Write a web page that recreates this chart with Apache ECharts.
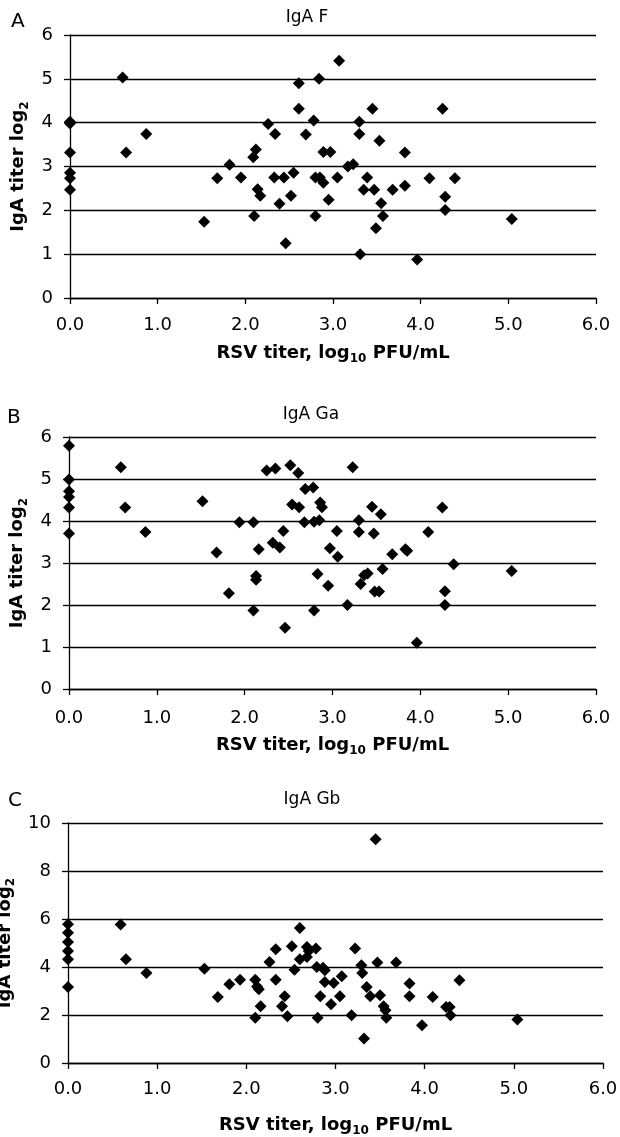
<!DOCTYPE html>
<html>
<head>
<meta charset="utf-8">
<script src="https://cdn.jsdelivr.net/npm/echarts@6/dist/echarts.min.js"></script>
<style>
html,body{margin:0;padding:0;background:#fff;}
#chart{width:620px;height:1137px;}
</style>
</head>
<body>
<div id="chart"></div>
<script>
// ---- Data ----
const panelLetters = ['A', 'B', 'C'];
const panelTitles = ['IgA F', 'IgA Ga', 'IgA Gb'];
const xTicks = [0, 1, 2, 3, 4, 5, 6];
const yMaxes = [6, 6, 10];
const yIntervals = [1, 1, 2];

// Panel A: IgA F
const aX = [0,0,0,0,0,0, 0.60,0.64,0.87,1.53,1.68,1.82,1.95,
  2.61,2.84,3.07,2.61,3.45, 2.26,2.78,3.30,2.34,2.69,3.30,3.53,
  2.12,2.09,2.89,2.97,3.17,3.23,
  2.33,2.44,2.55,2.80,2.85,2.89,3.05,3.39,3.68,
  2.14,2.17,2.39,2.52,2.95,3.35,3.47,3.55,3.57,3.49,
  2.10,2.80,2.46,3.31,
  3.82,3.82,3.96,4.10,4.25,4.28,4.28,4.39,5.04];
const aY = [4.02,3.98,3.32,2.86,2.73,2.47, 5.03,3.32,3.74,1.74,2.73,3.04,2.75,
  4.90,5.00,5.41,4.32,4.32, 3.97,4.05,4.02,3.74,3.73,3.74,3.59,
  3.39,3.21,3.33,3.33,3.00,3.05,
  2.75,2.75,2.86,2.75,2.75,2.63,2.75,2.75,2.47,
  2.48,2.33,2.15,2.33,2.24,2.47,2.47,2.16,1.87,1.59,
  1.87,1.87,1.25,1.00,
  3.32,2.56,0.88,2.73,4.32,2.31,2.01,2.73,1.80];

// Panel B: IgA Ga
const bX = [0,0,0,0,0,0, 0.59,0.64,0.87,1.52,1.68,1.82,1.94,
  2.25,2.35,2.52,2.61,3.23, 2.69,2.78,
  2.54,2.62,2.86,2.88, 3.45,3.55,4.25,
  2.10,2.68,2.79,2.85,3.30,
  2.44,3.05,3.30,3.47,4.09,
  2.16,2.32,2.40,2.97,3.06,3.68,3.83,3.85,
  2.13,2.13,2.83,2.95,3.36,3.40,3.32,3.57,3.48,3.53,4.38,4.28,5.04,
  2.10,2.79,3.17,4.28,
  2.46,3.96];
const bY = [5.79,4.99,4.71,4.57,4.32,3.70, 5.28,4.32,3.74,4.47,3.25,2.28,3.97,
  5.20,5.25,5.33,5.14,5.28, 4.76,4.80,
  4.39,4.33,4.44,4.33, 4.34,4.16,4.32,
  3.97,3.97,3.98,4.02,4.02,
  3.76,3.76,3.74,3.70,3.74,
  3.33,3.48,3.37,3.35,3.15,3.21,3.33,3.29,
  2.69,2.60,2.74,2.46,2.71,2.75,2.50,2.86,2.32,2.32,2.97,2.33,2.81,
  1.87,1.87,2.00,2.00,
  1.46,1.10];

// Panel C: IgA Gb
const cX = [0,0,0,0,0,0, 0.59,0.65,0.88,1.53,1.68,1.81,1.93,
  2.10,2.12,2.14,2.16,2.10,
  2.26,2.33,2.33,2.40,2.43,2.46,
  2.51,2.54,2.60,2.60,2.68,2.68,2.70,2.78,
  2.79,2.86,2.88,2.88,2.98,2.83,3.05,2.95,2.80,
  3.07,3.22,3.29,3.30,3.35,3.47,3.68,3.18,
  3.39,3.50,3.54,3.56,3.57,3.32,3.45,
  3.83,3.83,3.97,4.09,4.24,4.28,4.29,4.39,5.04];
const cY = [5.78,5.43,5.04,4.67,4.32,3.17, 5.77,4.32,3.75,3.93,2.75,3.28,3.47,
  3.47,3.19,3.07,2.36,1.89,
  4.21,4.74,3.47,2.36,2.78,1.95,
  4.86,3.89,5.63,4.32,4.42,4.83,4.67,4.77,
  4.00,3.97,3.86,3.38,3.33,2.78,2.78,2.45,1.89,
  3.61,4.77,4.07,3.75,3.17,4.19,4.19,1.99,
  2.78,2.82,2.36,2.20,1.89,1.02,9.32,
  3.31,2.78,1.57,2.75,2.33,2.33,1.99,3.45,1.81];

// ---- Layout ----
const FONT = 'DejaVu Sans';
const grids = [
  {left: 70, top: 35, width: 526, height: 263},
  {left: 69, top: 437, width: 527, height: 252},
  {left: 68, top: 823, width: 535, height: 240}
];
const tickMargins = [18, 20, 17];
const xNameGaps = [43, 44, 50];
const yNameGaps = [34, 34, 33];
const titlePos = [[307, 17.5], [311, 415], [312, 800]];
const letterPos = [[11, 22], [7, 418], [8, 800.5]];

const allX = [aX, bX, cX];
const allY = [aY, bY, cY];

const nameRich = {
  a: {fontFamily: FONT, fontSize: 18, fontWeight: 'bold', color: '#000', lineHeight: 24},
  s: {fontFamily: FONT, fontSize: 12, fontWeight: 'bold', color: '#000', lineHeight: 10, verticalAlign: 'bottom'}
};

const option = {
  animation: false,
  backgroundColor: '#fff',
  grid: grids.map(g => Object.assign({containLabel: false, outerBoundsMode: 'none'}, g)),
  xAxis: grids.map((g, i) => ({
    gridIndex: i,
    type: 'value',
    min: xTicks[0],
    max: xTicks[xTicks.length - 1],
    interval: 1,
    axisLine: {show: true, onZero: false, lineStyle: {color: '#000', width: 1.3}},
    axisTick: {show: true, length: 6, lineStyle: {color: '#000', width: 1.3}},
    axisLabel: {margin: tickMargins[i], fontFamily: FONT, fontSize: 18, lineHeight: 18, color: '#000',
      formatter: v => v.toFixed(1)},
    splitLine: {show: false},
    name: '{a|RSV titer, log}{s|10}{a| PFU/mL}',
    nameLocation: 'middle',
    nameGap: xNameGaps[i],
    nameTextStyle: {rich: nameRich}
  })),
  yAxis: grids.map((g, i) => ({
    gridIndex: i,
    type: 'value',
    min: 0,
    max: yMaxes[i],
    interval: yIntervals[i],
    axisLine: {show: true, onZero: false, lineStyle: {color: '#000', width: 1.3}},
    axisTick: {show: true, length: 6, lineStyle: {color: '#000', width: 1.3}},
    axisLabel: {margin: 17, fontFamily: FONT, fontSize: 18, color: '#000'},
    splitLine: {show: true, lineStyle: {color: '#000', width: 1.3, opacity: 1}},
    name: '{a|IgA titer log}{s|2}',
    nameLocation: 'middle',
    nameGap: yNameGaps[i],
    nameRotate: 90,
    nameTextStyle: {rich: nameRich}
  })),
  series: allX.map((xs, i) => ({
    type: 'scatter',
    xAxisIndex: i,
    yAxisIndex: i,
    symbol: 'diamond',
    symbolSize: 12,
    clip: false,
    itemStyle: {color: '#000', opacity: 1},
    data: xs.map((x, k) => [x, allY[i][k]])
  })),
  graphic: [].concat(
    panelTitles.map((t, i) => ({
      type: 'text', x: titlePos[i][0], y: titlePos[i][1], silent: true,
      style: {text: t, fontFamily: FONT, fontSize: 17, fill: '#000', textAlign: 'center', textVerticalAlign: 'middle'}
    })),
    panelLetters.map((t, i) => ({
      type: 'text', x: letterPos[i][0], y: letterPos[i][1], silent: true,
      style: {text: t, fontFamily: FONT, fontSize: 20, fill: '#000', textAlign: 'left', textVerticalAlign: 'middle'}
    }))
  )
};

const chart = echarts.init(document.getElementById('chart'), null, {renderer: 'canvas'});
chart.setOption(option);
</script>
</body>
</html>
